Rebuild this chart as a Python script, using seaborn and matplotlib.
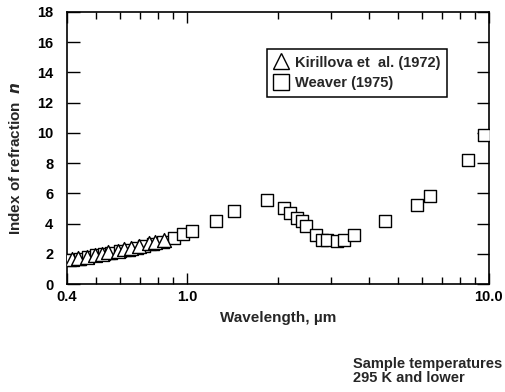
import matplotlib
matplotlib.use("Agg")
import matplotlib.pyplot as plt
import matplotlib.ticker as mticker
from matplotlib.lines import Line2D
import seaborn as sns
import pandas as pd

# Kirillova et al. (1972)
kir_wl = [0.414, 0.436, 0.466, 0.495, 0.521, 0.548, 0.588, 0.616, 0.651, 0.690, 0.745, 0.784, 0.840]
kir_n = [1.65, 1.70, 1.80, 1.95, 2.00, 2.10, 2.20, 2.30, 2.40, 2.50, 2.70, 2.80, 2.90]

# Weaver (1975)
wea_wl = [0.41, 0.44, 0.47, 0.50, 0.53, 0.56, 0.60, 0.64, 0.68, 0.72, 0.77, 0.83,
          0.902, 0.968, 1.04, 1.25, 1.43, 1.84, 2.09, 2.20, 2.31, 2.41, 2.48, 2.67,
          2.79, 2.90, 3.13, 3.30, 3.57, 4.52, 5.77, 6.37, 8.51, 9.66]
wea_n = [1.62, 1.68, 1.78, 1.92, 1.98, 2.08, 2.18, 2.28, 2.38, 2.52, 2.62, 2.80,
         3.07, 3.30, 3.50, 4.15, 4.80, 5.56, 5.03, 4.70, 4.37, 4.15, 3.86, 3.25,
         2.91, 2.91, 2.83, 2.91, 3.25, 4.15, 5.25, 5.85, 8.20, 9.87]

x_ticks = [0.4, 1.0, 10.0]
x_tick_labels = ["0.4", "1.0", "10.0"]
y_ticks = list(range(0, 19, 2))

kir = pd.DataFrame({"wl": kir_wl, "n": kir_n})
wea = pd.DataFrame({"wl": wea_wl, "n": wea_n})

sns.set_theme(style="ticks")
plt.rcParams["font.family"] = ["Liberation Sans", "DejaVu Sans"]
plt.rcParams["font.weight"] = "bold"

fig = plt.figure(figsize=(5.05, 3.92), dpi=100)
ax = fig.add_axes([0.133, 0.2755, 0.835, 0.694])

sns.scatterplot(data=wea, x="wl", y="n", marker="s", s=85, facecolor="white",
                edgecolor="black", linewidth=1.0, ax=ax, zorder=3)
sns.scatterplot(data=kir, x="wl", y="n", marker="^", s=100, facecolor="white",
                edgecolor="black", linewidth=1.0, ax=ax, zorder=4)

ax.set_xscale("log")
ax.set_xlim(0.4, 10.0)
ax.set_ylim(0, 18)

ax.xaxis.set_major_locator(mticker.FixedLocator(x_ticks))
ax.xaxis.set_major_formatter(mticker.FixedFormatter(x_tick_labels))
ax.xaxis.set_minor_locator(mticker.FixedLocator(
    [0.5, 0.6, 0.7, 0.8, 0.9, 2, 3, 4, 5, 6, 7, 8, 9]))
ax.xaxis.set_minor_formatter(mticker.NullFormatter())
ax.yaxis.set_major_locator(mticker.FixedLocator(y_ticks))
ax.yaxis.set_minor_locator(mticker.NullLocator())

ax.tick_params(which="both", direction="in", top=True, right=True,
               labelsize=10.5, width=1.0, colors="black")
ax.tick_params(axis="y", which="major", length=9, pad=10)
ax.tick_params(axis="x", which="major", length=8, pad=4)
ax.tick_params(axis="x", which="minor", length=5)
for lab in ax.get_xticklabels() + ax.get_yticklabels():
    lab.set_fontweight("bold")

for sp in ax.spines.values():
    sp.set_linewidth(1.2)
    sp.set_color("black")

ax.set_xlabel("Wavelength, µm", fontsize=11, fontweight="bold")
ax.xaxis.set_label_coords(0.50, -0.100)
ax.set_ylabel(r"Index of refraction  $\mathit{n}$", fontsize=11, fontweight="bold")
ax.yaxis.set_label_coords(-0.105, 0.463)

handles = [
    Line2D([], [], marker="^", linestyle="none", markersize=12,
           markerfacecolor="white", markeredgecolor="black", markeredgewidth=1.0),
    Line2D([], [], marker="s", linestyle="none", markersize=11,
           markerfacecolor="white", markeredgecolor="black", markeredgewidth=1.0),
]
leg = ax.legend(handles, ["Kirillova et  al. (1972)", "Weaver (1975)"],
                loc="upper left", bbox_to_anchor=(0.475, 0.864),
                frameon=True, fancybox=False, framealpha=1, edgecolor="black",
                prop={"size": 10.5, "weight": "bold"}, handlelength=0.9,
                handletextpad=0.55, borderpad=0.45, labelspacing=0.45,
                borderaxespad=0)
leg.get_frame().set_linewidth(1.1)

fig.text(0.699, 0.053, "Sample temperatures\n295 K and lower", fontsize=10.5,
         fontweight="bold", ha="left", va="center", linespacing=1.0)

fig.savefig("out.png", dpi=100)
